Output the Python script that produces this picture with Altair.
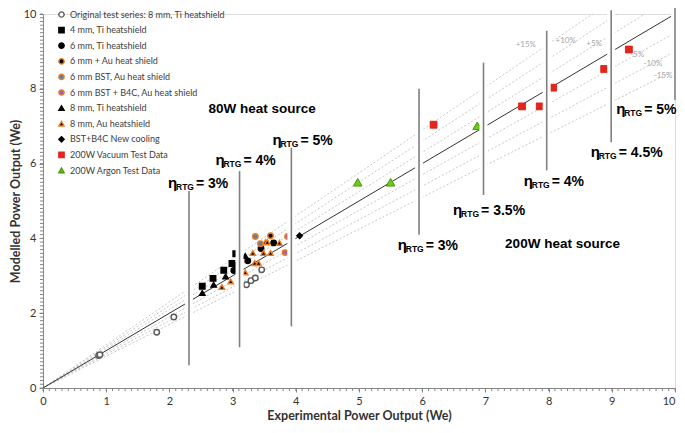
import altair as alt
import pandas as pd

# ---------------- data ----------------
series_names = [
    "Original test series: 8 mm, Ti heatshield",
    "4 mm, Ti heatshield",
    "6 mm, Ti heatshield",
    "6 mm + Au heat shield",
    "6 mm BST, Au heat shield",
    "6 mm BST + B4C, Au heat shield",
    "8 mm, Ti heatshield",
    "8 mm, Au heatshield",
    "BST+B4C New cooling",
    "200W Vacuum Test Data",
    "200W Argon Test Data",
]

orig_x = [0.88, 0.90, 1.80, 2.07, 3.22, 3.29, 3.36, 3.46]
orig_y = [0.87, 0.89, 1.49, 1.90, 2.76, 2.87, 2.94, 3.16]
ti4_x = [2.52, 2.69, 2.86, 2.99, 3.05, 3.06]
ti4_y = [2.72, 2.93, 3.15, 3.33, 3.59, 3.28]
ti6_x = [3.02, 3.24, 3.45, 3.65]
ti6_y = [3.14, 3.40, 3.73, 3.88]
au6_x = [3.60]
au6_y = [4.07]
bst_x = [3.36, 3.44]
bst_y = [4.05, 3.86]
b4c_x = [3.87, 3.83]
b4c_y = [4.05, 3.62]
ti8_x = [2.52, 2.70, 2.89, 3.20]
ti8_y = [2.54, 2.76, 2.98, 3.53]
au8_x = [2.83, 2.97, 3.20, 3.32, 3.35, 3.41, 3.49, 3.52, 3.55, 3.60, 3.74]
au8_y = [2.70, 2.85, 3.09, 3.61, 3.34, 3.34, 3.61, 3.90, 3.90, 3.61, 3.88]
new_x = [4.06]
new_y = [4.07]
vac_x = [6.18, 7.58, 7.86, 8.07, 8.88, 9.27]
vac_y = [7.04, 7.53, 7.53, 8.03, 8.53, 9.05]
arg_x = [4.98, 5.50, 6.87]
arg_y = [5.50, 5.50, 7.01]

all_x = [orig_x, ti4_x, ti6_x, au6_x, bst_x, b4c_x, ti8_x, au8_x, new_x, vac_x, arg_x]
all_y = [orig_y, ti4_y, ti6_y, au6_y, bst_y, b4c_y, ti8_y, au8_y, new_y, vac_y, arg_y]

# efficiency marker lines (x position, lower and upper y)
eff_x = [2.31, 3.11, 3.93, 5.95, 6.97, 7.97, 8.99, 10.0]
eff_lo = [0.61, 1.09, 1.65, 4.10, 5.16, 5.82, 6.57, 7.70]
eff_hi = [5.27, 5.80, 6.42, 8.00, 8.70, 9.55, 10.1, 10.2]
eff_txt = ["= 3%", "= 4%", "= 5%", "= 3%", "= 3.5%", "= 4%", "= 4.5%", "= 5%"]
eff_lab_x = [1.978, 2.729, 3.630, 5.613, 6.489, 7.607, 8.666, 9.07]
eff_lab_y = [5.354, 5.957, 6.489, 3.697, 4.628, 5.399, 6.170, 7.314]

# deviation lines (percent)
dev_pct = [0, 5, 10, 15, -5, -10, -15]
dev_txt = ["+15%", "+10%", "+5%", "-5%", "-10%", "-15%"]
dev_lab_x = [7.64, 8.27, 8.72, 9.40, 9.65, 9.81]
dev_lab_y = [9.18, 9.28, 9.20, 8.91, 8.67, 8.35]

heat_txt = ["80W heat source", "200W heat source"]
heat_x = [3.467, 8.22]
heat_y = [7.45, 3.86]

major_ticks = list(range(0, 11))
minor_ticks = [i / 10 for i in range(101)]

# ---------------- tables ----------------
pts = []
for name, xs_, ys_ in zip(series_names, all_x, all_y):
    for x, y in zip(xs_, ys_):
        pts.append({"series": name, "x": x, "y": y})
pts_df = pd.DataFrame(pts)
vac_df = pd.DataFrame({"x": vac_x, "y": vac_y})
arg_df = pd.DataFrame({"x": arg_x, "y": arg_y})

diag = []
for p in dev_pct:
    f = 1 + p / 100.0
    xe = min(10.0, 10.0 / f)
    diag.append({"pct": p, "x": 0.0, "y": 0.0})
    diag.append({"pct": p, "x": xe, "y": xe * f})
diag_df = pd.DataFrame(diag)

eff_df = pd.DataFrame({"x": eff_x, "lo": eff_lo, "hi": eff_hi,
                       "lx": eff_lab_x, "ly": eff_lab_y, "t": eff_txt})
dev_df = pd.DataFrame({"x": dev_lab_x, "y": dev_lab_y, "t": dev_txt})
heat_df = pd.DataFrame({"x": heat_x, "y": heat_y, "t": heat_txt})
minor_df = pd.DataFrame({"v": minor_ticks})

# ---------------- styling ----------------
W, H = 632, 374
shapes = ["circle", "square", "circle", "circle", "circle", "circle",
          "triangle-up", "triangle-up", "diamond", "square", "triangle-up"]
fills = ["#ffffff", "#000000", "#000000", "#000000", "#4f81bd", "#a060c0",
         "#000000", "#000000", "#000000", "#e3261c", "#66cc1a"]
strokes = ["#595959", "#000000", "#000000", "#f07c1e", "#f07c1e", "#f07c1e",
           "#000000", "#f07c1e", "#000000", "#e3261c", "#4e9a06"]

FONT = "Lato"
AX = "#868686"

xs = alt.Scale(domain=[0, 10], nice=False, zero=False)
ys = alt.Scale(domain=[0, 10], nice=False, zero=False)

common_axis = dict(values=major_ticks, format="d", tickSize=4, grid=False,
                   domainColor=AX, tickColor=AX, labelColor="#333333",
                   labelFont=FONT, labelFontSize=11, labelFlush=False,
                   labelOverlap=False, titleFont=FONT, titleFontSize=12.5,
                   titleFontWeight="bold", titleColor="#333333")
x_axis = alt.Axis(title="Experimental Power Output (We)", labelPadding=3,
                  titlePadding=3,
                  labelAlign={"condition": {"test": "datum.value == 10", "value": "right"},
                              "value": "center"},
                  **common_axis)
y_axis = alt.Axis(title="Modelled Power Output (We)", labelPadding=3,
                  titlePadding=1, **common_axis)

X = alt.X("x:Q", scale=xs, axis=x_axis)
Y = alt.Y("y:Q", scale=ys, axis=y_axis)

base_diag = alt.Chart(diag_df)
solid = base_diag.transform_filter("datum.pct == 0").mark_line(
    color="#333333", strokeWidth=1).encode(x=X, y=Y, detail="pct:N")
dashed = base_diag.transform_filter("datum.pct != 0").mark_line(
    color="#bfbfbf", strokeWidth=0.9, strokeDash=[2, 2]).encode(
    x=alt.X("x:Q", scale=xs), y=alt.Y("y:Q", scale=ys), detail="pct:N")

minor_x = alt.Chart(minor_df).mark_rule(color=AX, strokeWidth=1).encode(
    x=alt.X("v:Q", scale=xs), y=alt.value(H), y2=alt.value(H + 3))
minor_y = alt.Chart(minor_df).mark_rule(color=AX, strokeWidth=1).encode(
    y=alt.Y("v:Q", scale=ys), x=alt.value(0), x2=alt.value(-3))

legend = alt.Legend(orient="none", legendX=14, legendY=-4, title=None,
                    labelFont=FONT, labelFontSize=9, labelColor="#404040",
                    rowPadding=4.6, symbolSize=28, symbolStrokeWidth=1.4,
                    padding=0, labelOffset=4, labelLimit=300)

points = alt.Chart(pts_df).mark_point(filled=True, size=30, strokeWidth=1.4,
                                      opacity=1).encode(
    x=alt.X("x:Q", scale=xs), y=alt.Y("y:Q", scale=ys),
    shape=alt.Shape("series:N", scale=alt.Scale(domain=series_names, range=shapes),
                    legend=legend),
    fill=alt.Fill("series:N", scale=alt.Scale(domain=series_names, range=fills),
                  legend=legend),
    stroke=alt.Stroke("series:N", scale=alt.Scale(domain=series_names, range=strokes),
                      legend=legend),
)

vac = alt.Chart(vac_df).mark_point(shape="square", filled=True, size=48,
                                   fill="#e3261c", stroke="#e3261c", strokeWidth=0.8,
                                   opacity=1).encode(
    x=alt.X("x:Q", scale=xs), y=alt.Y("y:Q", scale=ys))
arg = alt.Chart(arg_df).mark_point(shape="triangle-up", filled=True, size=75,
                                   fill="#66cc1a", stroke="#4e9a06", strokeWidth=1,
                                   opacity=1).encode(
    x=alt.X("x:Q", scale=xs), y=alt.Y("y:Q", scale=ys))

base_eff = alt.Chart(eff_df)
mask = base_eff.mark_rule(color="white", strokeWidth=8).encode(
    x=alt.X("x:Q", scale=xs), y=alt.Y("lo:Q", scale=ys), y2="hi:Q")
vlines = base_eff.mark_rule(color="#7f7f7f", strokeWidth=1.6).encode(
    x=alt.X("x:Q", scale=xs), y=alt.Y("lo:Q", scale=ys), y2="hi:Q")

eta = base_eff.mark_text(text="η", align="left", baseline="alphabetic",
                         font="Liberation Sans", fontSize=15, fontWeight="bold",
                         color="#000000").encode(
    x=alt.X("lx:Q", scale=xs), y=alt.Y("ly:Q", scale=ys))
rtg = base_eff.mark_text(text="RTG", align="left", baseline="alphabetic",
                         font="Liberation Sans", fontSize=8.5, fontWeight="bold",
                         dx=8, dy=2, color="#000000").encode(
    x=alt.X("lx:Q", scale=xs), y=alt.Y("ly:Q", scale=ys))
eqt = base_eff.mark_text(align="left", baseline="alphabetic",
                         font="Liberation Sans", fontSize=14, fontWeight="bold",
                         dx=28, color="#000000").encode(
    x=alt.X("lx:Q", scale=xs), y=alt.Y("ly:Q", scale=ys), text="t:N")

devlab = alt.Chart(dev_df).mark_text(font=FONT, fontSize=8, color="#a6a6a6",
                                     baseline="middle").encode(
    x=alt.X("x:Q", scale=xs), y=alt.Y("y:Q", scale=ys), text="t:N")
heat = alt.Chart(heat_df).mark_text(font="Liberation Sans", fontSize=13.5,
                                    fontWeight="bold", color="#000000",
                                    baseline="middle").encode(
    x=alt.X("x:Q", scale=xs), y=alt.Y("y:Q", scale=ys), text="t:N")

chart = alt.layer(
    dashed, solid, minor_x, minor_y, points, vac, arg, mask, vlines,
    eta, rtg, eqt, devlab, heat
).properties(
    width=W, height=H,
    padding={"left": 35, "top": 6, "right": 2, "bottom": 36},
    autosize=alt.AutoSizeParams(type="none"),
).configure_view(stroke=None).configure(background="white")

chart.save("out.html", embed_options={"renderer": "svg", "actions": False})
